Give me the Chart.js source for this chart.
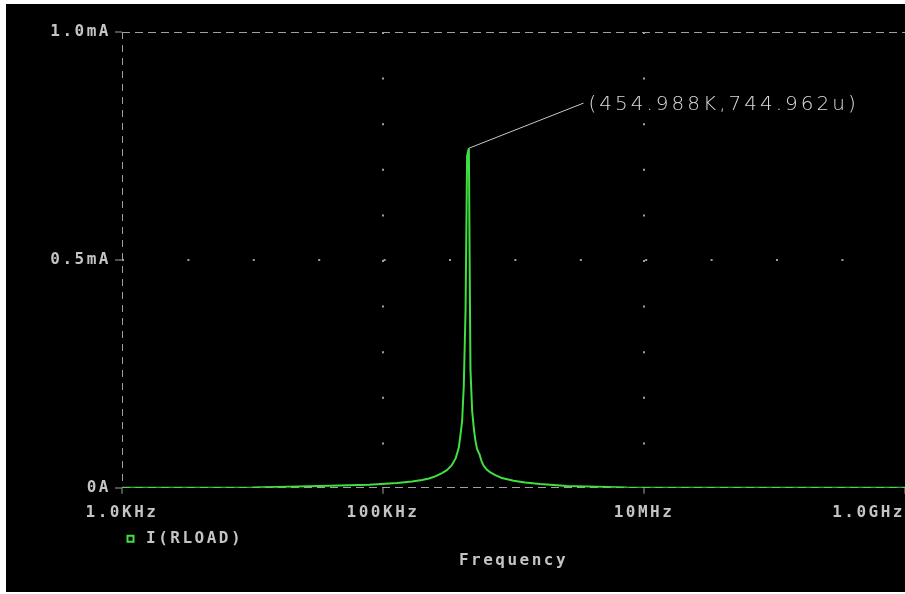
<!DOCTYPE html>
<html>
<head>
<meta charset="utf-8">
<title>I(RLOAD) vs Frequency</title>
<script src="https://cdn.jsdelivr.net/npm/chart.js@4.4.0/dist/chart.umd.min.js"></script>
<style>
    html, body { margin: 0; padding: 0; background: #fff; }
    #wrap { position: absolute; left: 6px; top: 4px; width: 899px; height: 588px; background: #000; }
</style>
</head>
<body>
<div id="wrap"><canvas id="myChart" width="899" height="588"></canvas></div>
<script>
// frequency in Hz, I(RLOAD) in mA
const freq = [1e3, 1e4, 2.28e4, 7.82e4, 1.28e5, 1.67e5, 1.99e5, 2.25e5, 2.54e5, 2.83e5,
    3.09e5, 3.37e5, 3.61e5, 3.81e5, 3.93e5, 4.04e5, 4.16e5, 4.29e5, 4.41e5, 454988,
    4.62e5, 4.68e5, 4.82e5, 4.97e5, 5.11e5, 5.26e5, 5.48e5, 5.68e5, 5.91e5, 6.27e5,
    6.65e5, 7.26e5, 8.16e5, 1.0e6, 1.23e6, 1.6e6, 2.56e6, 7.36e6, 2e7, 1e8, 1e9];
const current = [0, 0.0005, 0.003, 0.0066, 0.0103, 0.0138, 0.0169, 0.0204, 0.0257, 0.0322,
    0.0388, 0.0498, 0.0651, 0.0884, 0.118, 0.147, 0.224, 0.388, 0.728, 0.744962,
    0.465, 0.259, 0.169, 0.129, 0.103, 0.0849, 0.0739, 0.0592, 0.0482, 0.0395,
    0.0336, 0.0278, 0.0213, 0.0154, 0.0116, 0.0081, 0.0037, 0.0007, 0, 0, 0];

const xTicks = [1e3, 1e5, 1e7, 1e9];
const xTickLabels = ['1.0KHz', '100KHz', '10MHz', '1.0GHz      '];
const yTicks = [0, 0.5, 1.0];
const yTickLabels = ['0A', '0.5mA', '1.0mA'];

// cursor mark: peak point and where the label line ends
const markFreq = [454988, 3.44e6];
const markCurrent = [0.744962, 0.844];
const markLabel = '(454.988K,744.962u)';

const textColor = '#c4c4c4';
const gridColor = '#a0a0a0';
const monoFont = { family: 'DejaVu Sans Mono', size: 16, weight: 'bold' };

// the plot font is wide, so spread the letters a bit
const spacing = {
    id: 'spacing',
    beforeUpdate(chart) { chart.ctx.letterSpacing = '2.5px'; },
    beforeDraw(chart) { chart.ctx.letterSpacing = '2.5px'; }
};

const markText = {
    id: 'markText',
    afterDatasetsDraw(chart) {
        const ctx = chart.ctx;
        const x = chart.scales.x.getPixelForValue(markFreq[1]);
        const y = chart.scales.y.getPixelForValue(markCurrent[1]);
        ctx.save();
        ctx.letterSpacing = '3px';
        ctx.font = '200 20px "DejaVu Sans"';
        ctx.fillStyle = '#dcdcdc';
        ctx.textBaseline = 'middle';
        ctx.fillText(markLabel, x + 5, y + 2);
        ctx.restore();
    }
};

const hidden = 'rgba(0,0,0,0)';

new Chart(document.getElementById('myChart'), {
    type: 'line',
    data: {
        datasets: [{
            label: 'I(RLOAD)',
            data: freq.map((f, i) => ({ x: f, y: current[i] })),
            borderColor: '#40e040',
            backgroundColor: '#000',
            borderWidth: 2,
            borderJoinStyle: 'bevel',
            pointRadius: 0,
            tension: 0
        }, {
            label: 'mark',
            data: markFreq.map((f, i) => ({ x: f, y: markCurrent[i] })),
            borderColor: '#c8c8c8',
            borderWidth: 1,
            pointRadius: 0
        }]
    },
    options: {
        responsive: false,
        animation: false,
        events: [],
        layout: { padding: { top: 28, left: 0, right: 0, bottom: 0 } },
        scales: {
            x: {
                type: 'logarithmic',
                min: xTicks[0],
                max: xTicks[xTicks.length - 1],
                afterBuildTicks: s => { s.ticks = xTicks.map(v => ({ value: v })); },
                afterFit: s => { s.height = 42; s.paddingLeft = 0; s.paddingRight = 0; },
                ticks: {
                    callback: (v, i) => xTickLabels[i],
                    color: textColor,
                    font: monoFont,
                    padding: 9,
                    maxRotation: 0,
                    autoSkip: false
                },
                grid: {
                    color: c => (c.index === 0 || c.index === xTicks.length - 1) ? hidden : gridColor,
                    lineWidth: 2,
                    tickColor: gridColor,
                    tickLength: 6,
                    tickWidth: 1,
                    tickBorderDash: []
                },
                border: { display: false, dash: [2, 43.6] }
            },
            xEdge: {
                type: 'logarithmic',
                position: 'bottom',
                min: xTicks[0],
                max: xTicks[xTicks.length - 1],
                afterBuildTicks: s => { s.ticks = [{ value: xTicks[0] }, { value: xTicks[xTicks.length - 1] }]; },
                ticks: { display: false },
                grid: { color: gridColor, lineWidth: 1, drawTicks: false },
                border: { display: false, dash: [7, 6] }
            },
            y: {
                min: yTicks[0],
                max: yTicks[yTicks.length - 1],
                afterBuildTicks: s => { s.ticks = yTicks.map(v => ({ value: v })); },
                afterFit: s => { s.width = 116; s.paddingTop = 0; s.paddingBottom = 0; },
                ticks: {
                    callback: (v, i) => yTickLabels[i],
                    color: textColor,
                    font: monoFont,
                    padding: 4
                },
                grid: {
                    color: c => c.index === 1 ? gridColor : hidden,
                    lineWidth: 2,
                    tickColor: gridColor,
                    tickLength: 7,
                    tickWidth: 1,
                    tickBorderDash: []
                },
                border: { display: false, dash: [2, 63.4] }
            },
            yEdge: {
                position: 'left',
                min: yTicks[0],
                max: yTicks[yTicks.length - 1],
                afterBuildTicks: s => { s.ticks = [{ value: yTicks[0] }, { value: yTicks[yTicks.length - 1] }]; },
                ticks: { display: false },
                grid: { color: gridColor, lineWidth: 1, drawTicks: false },
                border: { display: false, dash: [8, 5] }
            }
        },
        plugins: {
            legend: {
                position: 'bottom',
                align: 'start',
                fullSize: false,
                maxHeight: 20,
                labels: {
                    filter: item => item.datasetIndex === 0,
                    usePointStyle: true,
                    pointStyle: 'rect',
                    boxWidth: 15,
                    boxHeight: 6,
                    padding: 1,
                    color: textColor,
                    font: monoFont
                }
            },
            title: {
                display: true,
                text: 'Frequency',
                position: 'bottom',
                fullSize: false,
                color: textColor,
                font: monoFont,
                padding: { top: 1, bottom: 22 }
            },
            tooltip: { enabled: false }
        }
    },
    plugins: [spacing, markText]
});
</script>
</body>
</html>
